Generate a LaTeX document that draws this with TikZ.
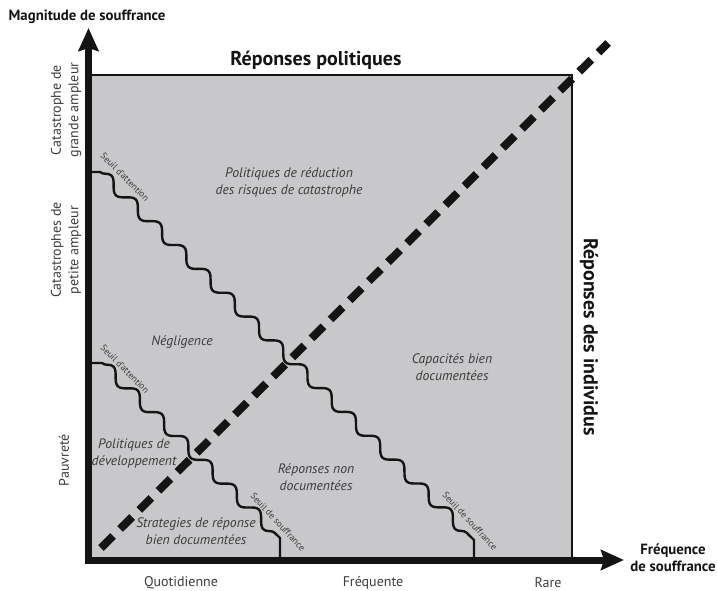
\documentclass[tikz,border=0pt]{standalone}
\usepackage{fontspec}
\setmainfont{PT Sans}
\usetikzlibrary{arrows.meta,decorations.pathmorphing}
\definecolor{boxgray}{RGB}{200,200,202}
\definecolor{txtgray}{RGB}{60,60,60}
\definecolor{ink}{RGB}{20,20,20}
\begin{document}
\begin{tikzpicture}[x=1pt,y=-1pt,
  axis/.style={line width=7pt, draw=ink, -{Stealth[length=23pt,width=20pt,inset=3pt]}},
  edgeline/.style={line width=2pt, draw=ink},
  wavy/.style={line width=2.4pt, draw=ink},
  snakedec/.style={decoration={snake, segment length=34pt, amplitude=5.5pt}},
  diag/.style={line width=8pt, draw=ink, dash pattern=on 17pt off 10pt},
  boldlab/.style={font=\bfseries\fontsize{14.8}{17}\selectfont, text=ink, inner sep=0pt, align=center},
  biglab/.style={font=\bfseries\fontsize{20}{22}\selectfont, text=ink, inner sep=0pt},
  axlab/.style={font=\fontsize{14}{17.5}\selectfont, text=txtgray, inner sep=0pt, align=center},
  zonelab/.style={font=\itshape\fontsize{13.7}{17}\selectfont, text=txtgray, inner sep=0pt, align=center},
  seuil/.style={font=\fontsize{9.2}{10}\selectfont, text=txtgray, inner sep=0pt}
]
\useasboundingbox (0,0) rectangle (717,591);
% coordinates
\coordinate (bl) at (88.5,560);
\coordinate (tl) at (88.5,75);
\coordinate (tr) at (572,75);
\coordinate (br) at (572,560);
\coordinate (ybot) at (88.5,563.5);
\coordinate (ytop) at (88.5,28);
\coordinate (xleft) at (85,560);
\coordinate (xright) at (624,560);
\coordinate (dA) at (101,548);
\coordinate (dB) at (608,43);
\coordinate (w1a) at (91,172);
\coordinate (w1b) at (100,172);
\coordinate (w1c) at (474,540);
\coordinate (w1d) at (474,558);
\coordinate (w2a) at (91,363);
\coordinate (w2b) at (102,363);
\coordinate (w2c) at (280,538);
\coordinate (w2d) at (280,558);
% box
\fill[boxgray] (tl) rectangle (br);
\draw[edgeline] (tl) -- (tr) -- (br);
% wavy thresholds
\draw[wavy] (w1a) -- (w1b) decorate[snakedec]{ -- (w1c)} -- (w1d);
\draw[wavy] (w2a) -- (w2b) decorate[snakedec]{ -- (w2c)} -- (w2d);
% diagonal
\draw[diag] (dA) -- (dB);
% axes
\draw[axis] (ybot) -- (ytop);
\draw[axis] (xleft) -- (xright);
% labels
\node[boldlab] (mag) at (87,17) {Magnitude de souffrance};
\node[biglab] (pol) at (316,60) {Réponses politiques};
\node[biglab, rotate=-90] (ind) at (589,337) {Réponses des individus};
\node[boldlab] (freq) at (673,558) {Fréquence\\de souffrance};
\node[axlab] (quo) at (181,583) {Quotidienne};
\node[axlab] (fre) at (373,583) {Fréquente};
\node[axlab] (rar) at (548,583) {Rare};
\node[axlab, rotate=90] (cgr) at (66,110) {Catastrophe de\\grande ampleur};
\node[axlab, rotate=90] (cpe) at (66,250) {Catastrophes de\\petite ampleur};
\node[axlab, rotate=90] (pau) at (64,460) {Pauvreté};
\node[zonelab] (z1) at (289,182) {Politiques de réduction\\des risques de catastrophe};
\node[zonelab] (z2) at (182,342) {Négligence};
\node[zonelab] (z3) at (452,367) {Capacités bien\\documentées};
\node[zonelab] (z4) at (134,454) {Politiques de\\développement};
\node[zonelab] (z5) at (316,477) {Réponses non\\documentées};
\node[zonelab] (z6) at (196,531) {Strategies de réponse\\bien documentées};
\node[seuil, rotate=-45] (s1) at (125,177) {Seuil d'attention};
\node[seuil, rotate=-45] (s2) at (125,369) {Seuil d'attention};
\node[seuil, rotate=-47] (s3) at (278,522) {Seuil de souffrance};
\node[seuil, rotate=-47] (s4) at (470,521) {Seuil de souffrance};
\end{tikzpicture}
\end{document}
